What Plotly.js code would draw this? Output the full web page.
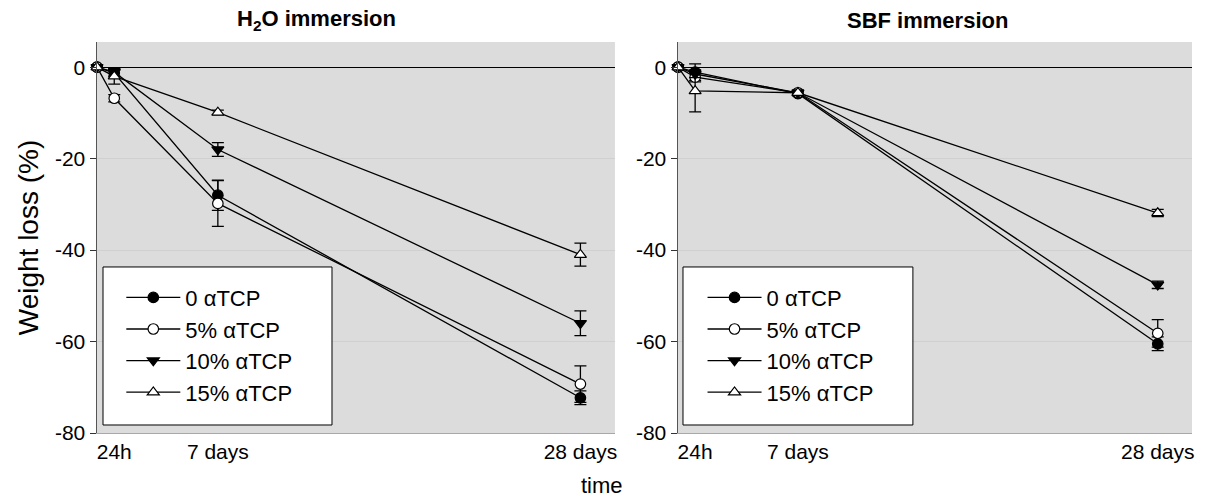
<!DOCTYPE html>
<html>
<head>
<meta charset="utf-8">
<script src="https://cdn.plot.ly/plotly-3.0.1.min.js"></script>
<style>html,body{margin:0;padding:0;background:#fff;}#chart{width:1205px;height:499px;}</style>
</head>
<body>
<div id="chart"></div>
<script>
// time points (days)
const days = [0, 1, 7, 28];
const tickDays = [1, 7, 28];
const tickLabels = ['24h', '7 days', '28 days'];
const yTickVals = [0, -20, -40, -60, -80];
const yTickLabels = ['0', '-20', '-40', '-60', '-80'];
const seriesNames = ['0 \u03b1TCP', '5% \u03b1TCP', '10% \u03b1TCP', '15% \u03b1TCP'];

// H2O immersion: weight loss (%) and error
const h2o_0 = [0, -1.3, -28.0, -72.3];
const h2o_0_err = [0, 0.8, 3.3, 1.5];
const h2o_5 = [0, -6.8, -29.8, -69.3];
const h2o_5_err = [0, 0.8, 5.0, 4.0];
const h2o_10 = [0, -1.1, -18.0, -56.0];
const h2o_10_err = [0, 0.8, 1.5, 2.7];
const h2o_15 = [0, -2.0, -9.9, -41.0];
const h2o_15_err = [0, 1.7, 0.5, 2.5];

// SBF immersion
const sbf_0 = [0, -1.1, -5.8, -60.5];
const sbf_0_err = [0, 1.8, 0.5, 1.5];
const sbf_5 = [0, -2.2, -5.6, -58.2];
const sbf_5_err = [0, 1.0, 0.5, 3.0];
const sbf_10 = [0, -1.5, -5.6, -47.6];
const sbf_10_err = [0, 0.8, 0.5, 0.8];
const sbf_15 = [0, -5.2, -5.6, -31.9];
const sbf_15_err = [0, 4.6, 0.5, 0.8];

const styles = [
  {symbol: 'circle', color: '#000'},
  {symbol: 'circle', color: '#fff'},
  {symbol: 'triangle-down', color: '#000'},
  {symbol: 'triangle-up', color: '#fff'}
];

function mk(y, err, i, panel) {
  return {
    x: days, y: y, type: 'scatter', mode: 'lines+markers',
    name: seriesNames[i],
    xaxis: panel === 1 ? 'x' : 'x2', yaxis: panel === 1 ? 'y' : 'y2',
    legend: panel === 1 ? 'legend' : 'legend2',
    line: {color: '#000', width: 1.3},
    marker: {symbol: styles[i].symbol, color: styles[i].color, size: 10.5, line: {color: '#000', width: 1.2}},
    error_y: {type: 'data', array: err, visible: true, color: '#000', thickness: 1.3, width: 6},
    cliponaxis: false
  };
}

const h2oSets = [[h2o_0, h2o_0_err], [h2o_5, h2o_5_err], [h2o_10, h2o_10_err], [h2o_15, h2o_15_err]];
const sbfSets = [[sbf_0, sbf_0_err], [sbf_5, sbf_5_err], [sbf_10, sbf_10_err], [sbf_15, sbf_15_err]];
const data = [];
h2oSets.forEach((s, i) => data.push(mk(s[0], s[1], i, 1)));
sbfSets.forEach((s, i) => data.push(mk(s[0], s[1], i, 2)));

const fontFam = 'Arial, "Liberation Sans", sans-serif';
const xax = (dom) => ({
  domain: dom, range: [0, 30], tickvals: tickDays, ticktext: tickLabels,
  showgrid: false, zeroline: false, showline: true, linecolor: '#a8a8a8', linewidth: 1,
  ticks: '', tickfont: {size: 21, family: fontFam, color: '#000'}, fixedrange: true
});
const yax = (anchor) => ({
  anchor: anchor, range: [-80, 5.5], tickvals: yTickVals, ticktext: yTickLabels,
  showgrid: true, gridcolor: '#d0d0d0', gridwidth: 1,
  zeroline: true, zerolinecolor: '#000', zerolinewidth: 1.3,
  showline: true, linecolor: '#555', linewidth: 1.5,
  ticks: 'outside', ticklen: 6, tickcolor: '#333', tickwidth: 1,
  tickfont: {size: 21, family: fontFam, color: '#000'}, fixedrange: true
});

const legendCommon = {
  bgcolor: 'rgba(0,0,0,0)', borderwidth: 0, font: {size: 22, family: fontFam, color: '#000'},
  yanchor: 'top', xanchor: 'left', tracegroupgap: 0, itemwidth: 54
};

const layout = {
  width: 1205, height: 499,
  margin: {l: 97, r: 13, t: 42, b: 66},
  paper_bgcolor: '#fff', plot_bgcolor: '#dcdcdc',
  showlegend: true,
  xaxis: xax([0, 0.473]),
  yaxis: Object.assign(yax('x'), {title: {text: 'Weight loss (%)', font: {size: 28, family: fontFam, color: '#000'}, standoff: 8}}),
  xaxis2: xax([0.5306, 1]),
  yaxis2: yax('x2'),
  legend: Object.assign({x: 0.0222, y: 0.40}, legendCommon),
  legend2: Object.assign({x: 0.553, y: 0.40}, legendCommon),
  shapes: [
    {type: 'rect', xref: 'x domain', yref: 'y domain', x0: 0.0116, x1: 0.4537, y0: 0.0205, y1: 0.4246,
     fillcolor: '#fff', line: {color: '#000', width: 1}, layer: 'above'},
    {type: 'rect', xref: 'x2 domain', yref: 'y2 domain', x0: 0.0097, x1: 0.457, y0: 0.0205, y1: 0.4246,
     fillcolor: '#fff', line: {color: '#000', width: 1}, layer: 'above'}
  ],
  annotations: [
    {text: '<b>H<sub>2</sub>O immersion</b>', xref: 'paper', yref: 'paper', x: 0.2, y: 1.0, yshift: 22,
     xanchor: 'center', yanchor: 'middle', showarrow: false, font: {size: 22, family: fontFam, color: '#000'}},
    {text: '<b>SBF immersion</b>', xref: 'paper', yref: 'paper', x: 0.758, y: 1.0, yshift: 22,
     xanchor: 'center', yanchor: 'middle', showarrow: false, font: {size: 22, family: fontFam, color: '#000'}},
    {text: 'time', xref: 'paper', yref: 'paper', x: 0.461, y: 0, yshift: -52,
     xanchor: 'center', yanchor: 'middle', showarrow: false, font: {size: 22, family: fontFam, color: '#000'}}
  ]
};

Plotly.newPlot('chart', data, layout, {displayModeBar: false, staticPlot: true});
</script>
</body>
</html>
